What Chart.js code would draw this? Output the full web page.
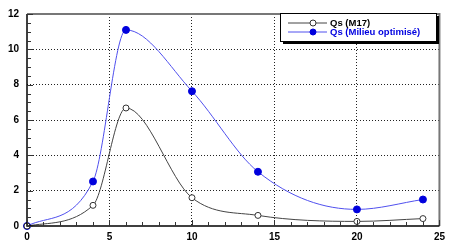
<!DOCTYPE html>
<html>
<head>
<meta charset="utf-8">
<script src="https://cdn.jsdelivr.net/npm/chart.js@4"></script>
<style>
  html, body { margin: 0; padding: 0; background: #fff; }
  #wrap { width: 450px; height: 244px; }
</style>
</head>
<body>
<div id="wrap"><canvas id="chart" width="450" height="244"></canvas></div>
<script>
// === Data ===
const timePoints = [0, 4, 6, 10, 14, 20, 24];
const qsM17 = [0, 1.17, 6.68, 1.6, 0.6, 0.26, 0.42];
const qsOptim = [0, 2.52, 11.1, 7.63, 3.07, 0.94, 1.5];
const seriesLabels = ["Qs (M17)", "Qs (Milieu optimisé)"];
const xTicks = [0, 5, 10, 15, 20, 25];
const yTicks = [0, 2, 4, 6, 8, 10, 12];

const toPoints = vals => timePoints.map((t, i) => ({ x: t, y: vals[i] }));

// === Minor ticks + frame ===
const framePlugin = {
    id: "frame",
    afterDatasetsDraw(chart) {
        const { ctx, chartArea: a, scales } = chart;
        const xs = scales.x, ys = scales.y;
        ctx.save();
        // top / right border (gray)
        ctx.strokeStyle = "#777";
        ctx.lineWidth = 2;
        ctx.beginPath();
        ctx.moveTo(a.left, a.top);
        ctx.lineTo(a.right, a.top);
        ctx.lineTo(a.right, a.bottom);
        ctx.stroke();
        // axes (black)
        ctx.strokeStyle = "#000";
        ctx.lineWidth = 1.5;
        ctx.beginPath();
        ctx.moveTo(a.left, a.top);
        ctx.lineTo(a.left, a.bottom);
        ctx.lineTo(a.right, a.bottom);
        ctx.stroke();
        // ticks inward
        ctx.lineWidth = 1;
        ctx.strokeStyle = "#333";
        ctx.beginPath();
        for (let v = 0; v <= 25; v++) {
            const px = Math.round(xs.getPixelForValue(v)) + 0.5;
            const len = v % 5 === 0 ? 6 : 4;
            ctx.moveTo(px, a.bottom);
            ctx.lineTo(px, a.bottom - len);
        }
        for (let v = 0; v <= 12; v += 0.5) {
            const py = Math.round(ys.getPixelForValue(v)) + 0.5;
            const len = v % 2 === 0 ? 6 : 4;
            ctx.moveTo(a.left, py);
            ctx.lineTo(a.left + len, py);
        }
        ctx.stroke();
        ctx.restore();
    }
};

// === Legend box with shadow ===
const legendBoxPlugin = {
    id: "legendBox",
    afterDraw(chart) {
        const { ctx } = chart;
        const x0 = 280, y0 = 13, w = 156, h = 28;
        ctx.save();
        ctx.fillStyle = "#000";
        ctx.fillRect(x0 + 3, y0 + 3, w, h);
        ctx.fillStyle = "#fff";
        ctx.fillRect(x0, y0, w, h);
        ctx.strokeStyle = "#000";
        ctx.lineWidth = 1;
        ctx.strokeRect(x0 + 0.5, y0 + 0.5, w, h);

        chart.data.datasets.forEach((ds, i) => {
            const y = y0 + 10 + i * 9;
            ctx.strokeStyle = ds.borderColor;
            ctx.lineWidth = 1;
            ctx.beginPath();
            ctx.moveTo(x0 + 8, y);
            ctx.lineTo(x0 + 47, y);
            ctx.stroke();
            ctx.beginPath();
            ctx.arc(x0 + 33, y, 3, 0, Math.PI * 2);
            ctx.fillStyle = ds.pointBackgroundColor;
            ctx.fill();
            ctx.strokeStyle = ds.pointBorderColor;
            ctx.stroke();
            ctx.fillStyle = i === 0 ? "#000" : "#0000e0";
            ctx.font = "bold 9.5px 'Liberation Sans', Arial, sans-serif";
            ctx.textBaseline = "middle";
            ctx.fillText(ds.label, x0 + 50, y + 0.5);
        });
        ctx.restore();
    }
};

const gridColor = (lo, hi) => c =>
    (c.tick && (c.tick.value === lo || c.tick.value === hi) ? "rgba(0,0,0,0)" : "#222");

new Chart(document.getElementById("chart"), {
    type: "line",
    data: {
        datasets: [
            {
                label: seriesLabels[0],
                data: toPoints(qsM17),
                borderColor: "#444",
                borderWidth: 1,
                pointRadius: 3,
                pointBackgroundColor: "#fff",
                pointBorderColor: "#333",
                pointBorderWidth: 1,
                cubicInterpolationMode: "monotone",
                clip: false
            },
            {
                label: seriesLabels[1],
                data: toPoints(qsOptim),
                borderColor: "#5050ee",
                borderWidth: 1,
                pointRadius: 3.5,
                pointBackgroundColor: "#0000dd",
                pointBorderColor: "#0000dd",
                pointBorderWidth: 1,
                cubicInterpolationMode: "monotone",
                clip: false
            }
        ]
    },
    options: {
        responsive: false,
        animation: false,
        layout: { padding: { top: 10, right: 9, left: 0, bottom: 0 } },
        plugins: { legend: { display: false }, tooltip: { enabled: false } },
        scales: {
            x: {
                type: "linear",
                min: 0,
                max: 25,
                afterBuildTicks: s => { s.ticks = xTicks.map(v => ({ value: v })); },
                afterFit: s => { s.height = 18; },
                border: { display: false, dash: [1, 2] },
                grid: { drawTicks: false, color: gridColor(0, 25), lineWidth: 1 },
                ticks: {
                    color: "#000",
                    padding: 5,
                    font: { family: "'Liberation Sans', Arial", size: 10, weight: "bold" }
                }
            },
            y: {
                min: 0,
                max: 12,
                afterBuildTicks: s => { s.ticks = yTicks.map(v => ({ value: v })); },
                afterFit: s => { s.width = 27; },
                border: { display: false, dash: [1, 2] },
                grid: { drawTicks: false, color: gridColor(0, 12), lineWidth: 1 },
                ticks: {
                    color: "#000",
                    padding: 8,
                    font: { family: "'Liberation Sans', Arial", size: 10, weight: "bold" }
                }
            }
        }
    },
    plugins: [framePlugin, legendBoxPlugin]
});
</script>
</body>
</html>
